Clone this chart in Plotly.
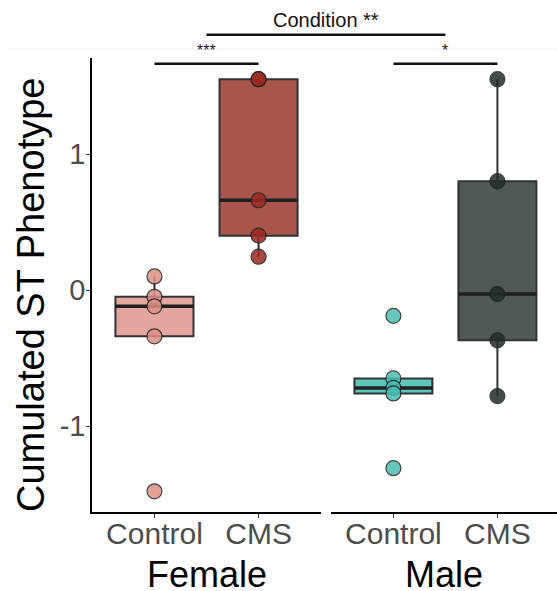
import numpy as np
import plotly.graph_objects as go

# ---- data ----
conditions = ["Control", "CMS"]
sexes = ["Female", "Male"]
female_control = [0.10, -0.05, -0.12, -0.34, -1.48]
female_cms = [1.55, 1.55, 0.66, 0.40, 0.245]
male_control = [-0.19, -0.65, -0.72, -0.76, -1.31]
male_cms = [1.55, 0.80, -0.03, -0.37, -0.78]
y_ticks = [-1, 0, 1]
sig_within = ["***", "*"]
sig_between = "Condition **"

box_fills = {"Female": ["#E4A79F", "#A8554B"], "Male": ["#5FC5BA", "#4F5954"]}
pt_fills = {"Female": ["#DE8F85", "#9B2820"], "Male": ["#4ABDB2", "#222C28"]}
groups = {"Female": [female_control, female_cms], "Male": [male_control, male_cms]}
axes = {"Female": ("x", "y"), "Male": ("x2", "y")}

W, H = 557, 591
ML, MR, MT, MB = 92, 0, 58, 79
dom_f = [0, 0.4925]
dom_m = [0.514, 1.0]
rng_f = [-0.6, 1.6]
rng_m = [-0.6, 1.573]
yr = [-1.632, 1.706]
BW = 0.75

FONT = "Liberation Sans, Arial, Helvetica, sans-serif"

fig = go.Figure()
for sex in sexes:
    xa, ya = axes[sex]
    for i, vals in enumerate(groups[sex]):
        fig.add_trace(go.Box(
            x=[i] * len(vals), y=vals, xaxis=xa, yaxis=ya,
            width=BW, fillcolor=box_fills[sex][i],
            line=dict(color="#333333", width=2),
            boxpoints="outliers", marker=dict(opacity=0, size=1),
            quartilemethod="inclusive", whiskerwidth=0,
            showlegend=False, hoverinfo="skip"))
        med = float(np.median(vals))
        fig.add_trace(go.Scatter(
            x=[i - BW / 2, i + BW / 2], y=[med, med], xaxis=xa, yaxis=ya,
            mode="lines", line=dict(color="#1f1f1f", width=3.5),
            showlegend=False, hoverinfo="skip"))
        fig.add_trace(go.Scatter(
            x=[i] * len(vals), y=vals, xaxis=xa, yaxis=ya, mode="markers",
            marker=dict(size=15, color=pt_fills[sex][i], opacity=0.85,
                        line=dict(color="#222222", width=1.2)),
            showlegend=False, hoverinfo="skip"))

# convert data x to paper x
def to_paper(xv, dom, rng):
    return dom[0] + (xv - rng[0]) / (rng[1] - rng[0]) * (dom[1] - dom[0])

sig_y = 1.664
shapes = []
for sex, xa in [("Female", "x"), ("Male", "x2")]:
    shapes.append(dict(type="line", xref=xa, yref="y", x0=0, x1=1, y0=sig_y, y1=sig_y,
                       line=dict(color="#111111", width=2.5)))
mid_f = to_paper(0.5, dom_f, rng_f)
mid_m = to_paper(0.5, dom_m, rng_m)
top_y = (H - MB - 34.7) / (H - MT - MB)
shapes.append(dict(type="line", xref="paper", yref="paper", x0=mid_f, x1=mid_m,
                   y0=top_y, y1=top_y, line=dict(color="#111111", width=2.5)))
# faint border line
gl = (H - MB - 49) / (H - MT - MB)
shapes.append(dict(type="line", xref="paper", yref="paper", x0=(9 - ML) / (W - ML - MR), x1=1,
                   y0=gl, y1=gl, line=dict(color="#EAEAEA", width=1)))

ph = H - MT - MB
annotations = []
for sex, xa, s in [("Female", "x", sig_within[0]), ("Male", "x2", sig_within[1])]:
    annotations.append(dict(text=s, xref=xa, yref="paper", x=0.5, y=(H - MB - 50) / ph,
                            showarrow=False, yanchor="middle",
                            font=dict(size=16, color="#222222", family=FONT)))
    annotations.append(dict(text=sex, xref=xa + " domain", yref="paper", x=0.5,
                            y=(H - MB - 574) / ph, showarrow=False, yanchor="middle",
                            font=dict(size=36, color="#000000", family=FONT)))
annotations.append(dict(text=sig_between, xref="paper", yref="paper", x=(mid_f + mid_m) / 2,
                        y=(H - MB - 20) / ph, showarrow=False, yanchor="middle",
                        font=dict(size=20, color="#111111", family=FONT)))
annotations.append(dict(text="Cumulated ST Phenotype", xref="paper", yref="paper",
                        x=(31 - ML) / (W - ML - MR), y=(H - MB - 295) / ph, textangle=-90,
                        showarrow=False, xanchor="center", yanchor="middle",
                        font=dict(size=38, color="#000000", family=FONT)))

xcommon = dict(tickvals=[0, 1], ticktext=conditions, showline=True, linecolor="#000000",
               linewidth=1.5, ticks="outside", ticklen=4, tickcolor="#333333", tickwidth=1.2,
               tickfont=dict(size=30, color="#4D4D4D", family=FONT), showgrid=False,
               zeroline=False, fixedrange=True, ticklabelstandoff=-10)
fig.update_layout(
    width=W, height=H, margin=dict(l=ML, r=MR, t=MT, b=MB),
    paper_bgcolor="white", plot_bgcolor="white",
    xaxis=dict(domain=dom_f, range=rng_f, anchor="y", **xcommon),
    xaxis2=dict(domain=dom_m, range=rng_m, anchor="y", **xcommon),
    yaxis=dict(range=yr, tickvals=y_ticks, ticktext=[str(t) for t in y_ticks],
               showline=True, linecolor="#000000", linewidth=1.5, ticks="outside", ticklen=4,
               tickcolor="#333333", tickwidth=1.2, ticklabelstandoff=-5,
               tickfont=dict(size=29, color="#4D4D4D", family=FONT),
               showgrid=False, zeroline=False),
    shapes=shapes, annotations=annotations, showlegend=False,
)
fig.write_html("out.html")
